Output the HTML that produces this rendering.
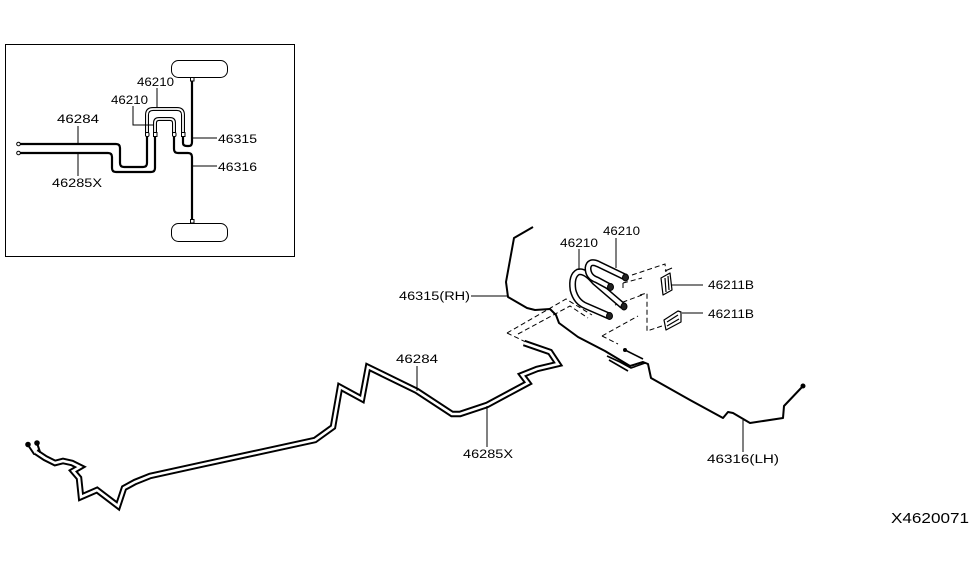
<!DOCTYPE html>
<html>
<head>
<meta charset="utf-8">
<style>
html,body{margin:0;padding:0;background:#fff;}
svg{display:block;}
text{font-family:"Liberation Sans",sans-serif;font-size:11.5px;fill:#000;}
</style>
</head>
<body>
<svg width="975" height="566" viewBox="0 0 975 566" xmlns="http://www.w3.org/2000/svg">
<rect x="0" y="0" width="975" height="566" fill="#fff"/>

<!-- ================= INSET ================= -->
<rect x="5.5" y="44.5" width="289" height="212" fill="none" stroke="#000" stroke-width="1"/>
<!-- wheels -->
<rect x="171.5" y="60.5" width="56" height="17" rx="7" fill="#fff" stroke="#000" stroke-width="1"/>
<rect x="171.5" y="223.5" width="56" height="18" rx="7" fill="#fff" stroke="#000" stroke-width="1"/>

<g fill="none" stroke="#000" stroke-linejoin="round" stroke-linecap="round">
  <!-- 46284 -->
  <path d="M19,144 L116,144 Q120,144 120,148 L120,163 Q120,167 124,167 L143,167 Q147,167 147,163 L147,137" stroke-width="2.2"/>
  <!-- 46285X -->
  <path d="M19,153 L108,153 Q112,153 112,157 L112,168 Q112,172 116,172 L151,172 Q155,172 155,168 L155,137" stroke-width="2.2"/>
  <!-- 46316 -->
  <path d="M174,137 L174,149 Q174,153 178,153 L188,153 Q192,153 192,157 L192,221" stroke-width="2.2"/>
  <!-- 46315 -->
  <path d="M183,137 L183,143 Q183,146 187,146 L189,146 Q192,146 192,142 L192,80" stroke-width="2.2"/>
  <!-- outer U 46210 -->
  <path d="M147,133 L147,115 Q147,109 153,109 L177,109 Q183,109 183,115 L183,133" stroke-width="4"/>
  <path d="M147,133 L147,115 Q147,109 153,109 L177,109 Q183,109 183,115 L183,133" stroke="#fff" stroke-width="1.8"/>
  <!-- inner U 46210 -->
  <path d="M155,133 L155,123 Q155,119 159,119 L170,119 Q174,119 174,123 L174,133" stroke-width="4"/>
  <path d="M155,133 L155,123 Q155,119 159,119 L170,119 Q174,119 174,123 L174,133" stroke="#fff" stroke-width="1.8"/>
</g>
<!-- connectors -->
<g fill="#fff" stroke="#000" stroke-width="1">
  <rect x="145.5" y="132.5" width="3.5" height="4" rx="1.2"/>
  <rect x="153.5" y="132.5" width="3.5" height="4"/>
  <rect x="172.5" y="132.5" width="3.5" height="4" rx="1.2"/>
  <rect x="181.5" y="132.5" width="3.5" height="4"/>
  <rect x="190.5" y="77.5" width="3.5" height="3.5"/>
  <rect x="190.5" y="219.5" width="3.5" height="3.5"/>
  <circle cx="18.5" cy="144" r="1.8"/>
  <circle cx="18.5" cy="153" r="1.8"/>
</g>
<!-- inset leaders -->
<g stroke="#000" stroke-width="1" fill="none">
  <path d="M157,88 L157,108"/>
  <path d="M133,106 L133,125 L154,125"/>
  <path d="M78,126 L78,143"/>
  <path d="M78,154 L78,176"/>
  <path d="M193,138 L217,138"/>
  <path d="M193,166 L217,166"/>
</g>
<text x="137" y="86" textLength="37" lengthAdjust="spacingAndGlyphs">46210</text>
<text x="111" y="104" textLength="37" lengthAdjust="spacingAndGlyphs">46210</text>
<text x="57" y="123" textLength="42" lengthAdjust="spacingAndGlyphs">46284</text>
<text x="52" y="187" textLength="50" lengthAdjust="spacingAndGlyphs">46285X</text>
<text x="218" y="143" textLength="39" lengthAdjust="spacingAndGlyphs">46315</text>
<text x="218" y="171" textLength="39" lengthAdjust="spacingAndGlyphs">46316</text>

<!-- ================= MAIN ================= -->
<!-- dashed outlines -->
<g fill="none" stroke="#000" stroke-width="1" stroke-dasharray="5,3">
  <path d="M507,333 L566,299 L592,315"/>
  <path d="M518,334 L570,306 L588,318"/>
  <path d="M507,333 L530,344"/>
  <path d="M602,336 L638,316"/>
  <path d="M602,336 L618,344"/>
  <path d="M615,305 L642,295"/>
  <path d="M623,283 L642,278"/>
  <path d="M623,283 L623,290"/>
  <path d="M632,275 L665,264 L666,272"/>
  <path d="M640,295 L647,293 L647,331 L665,325"/>
</g>

<!-- 46284 / 46285X double pipe -->
<g fill="none" stroke-linejoin="miter" stroke-miterlimit="3">
  <polyline points="36,452 45,458 55,463 63,461 72,463 80,467 73,471 79,478 81,497 97,490 118,506 124,488 135,482 150,476 200,465 260,452 315,440 333,427 340,387 362,399 368,367 417,391 452,414 460,414 487,405 528,383 522,375 537,369 558,364 550,352 524,343" stroke="#000" stroke-width="6.5"/>
  <polyline points="36,452 45,458 55,463 63,461 72,463 80,467 73,471 79,478 81,497 97,490 118,506 124,488 135,482 150,476 200,465 260,452 315,440 333,427 340,387 362,399 368,367 417,391 452,414 460,414 487,405 528,383 522,375 537,369 558,364 550,352 524,343" stroke="#fff" stroke-width="2.6"/>
</g>
<g stroke="#000" stroke-width="2" fill="#000" stroke-linecap="round">
  <line x1="28" y1="445" x2="34" y2="454"/>
  <line x1="37" y1="443" x2="40" y2="452"/>
  <circle cx="28" cy="444.5" r="1.8"/>
  <circle cx="37" cy="443" r="1.8"/>
</g>

<!-- 46315 / 46316 single pipe -->
<polyline points="533,227 514,238 510,260 506,282 508,297 527,308 535,310 550,309 556,315 559,323 578,337 605,351 630,366 643,362 648,364 651,378 690,400 723,418 728,412 733,413 750,423 783,418 784,406 803,386" fill="none" stroke="#000" stroke-width="2" stroke-linejoin="round"/>
<circle cx="803" cy="386" r="2.5" fill="#000"/>
<g fill="none" stroke="#000" stroke-width="1.6" stroke-linejoin="round">
  <polyline points="625,350 643,359"/>
  <polyline points="607,356 620,362 631,368 645,363"/>
  <polyline points="609,360 628,371"/>
</g>
<circle cx="625" cy="350" r="2" fill="#000"/>

<!-- 46210 U tubes -->
<g fill="none" stroke-linecap="butt" stroke-linejoin="round">
  <path d="M623,306 L595,282 Q585,270 578,272 Q571,276 573,290 Q576,302 586,306 L609,316" stroke="#000" stroke-width="7"/>
  <path d="M623,306 L595,282 Q585,270 578,272 Q571,276 573,290 Q576,302 586,306 L609,316" stroke="#fff" stroke-width="4"/>
  <path d="M625,277 L598,264 Q589,260 588,268 Q588,277 597,280 L610,287" stroke="#000" stroke-width="7"/>
  <path d="M625,277 L598,264 Q589,260 588,268 Q588,277 597,280 L610,287" stroke="#fff" stroke-width="4"/>
</g>
<g fill="#222" stroke="#000" stroke-width="1">
  <ellipse cx="625.5" cy="277.5" rx="3" ry="3.5"/>
  <ellipse cx="610.5" cy="287" rx="3" ry="3.5"/>
  <ellipse cx="624" cy="306.5" rx="3" ry="3.5"/>
  <ellipse cx="609.5" cy="316" rx="3" ry="3.5"/>
</g>

<!-- 46211B clips -->
<g fill="#fff" stroke="#000" stroke-width="1.2" stroke-linejoin="round">
  <polygon points="661,278 670,273 672,290 663,295"/>
  <line x1="665" y1="278" x2="666" y2="292"/>
  <line x1="668" y1="276" x2="669" y2="290"/>
  <line x1="665" y1="271" x2="672" y2="268"/>
  <polygon points="664,320 678,311 681,312 681,322 666,330"/>
  <line x1="667" y1="322" x2="678" y2="315"/>
  <line x1="667" y1="326" x2="679" y2="319"/>
</g>

<!-- main leaders -->
<g stroke="#000" stroke-width="1" fill="none">
  <path d="M616,238 L616,268"/>
  <path d="M579,249 L579,270"/>
  <path d="M672,285 L703,285"/>
  <path d="M682,313 L703,313"/>
  <path d="M471,296 L507,296"/>
  <path d="M417,366 L417,391"/>
  <path d="M487,406 L487,447"/>
  <path d="M743,420 L743,452"/>
</g>
<text x="603" y="235" textLength="37" lengthAdjust="spacingAndGlyphs">46210</text>
<text x="560" y="247" textLength="38" lengthAdjust="spacingAndGlyphs">46210</text>
<text x="708" y="289" textLength="46" lengthAdjust="spacingAndGlyphs">46211B</text>
<text x="708" y="318" textLength="46" lengthAdjust="spacingAndGlyphs">46211B</text>
<text x="399" y="300" textLength="71" lengthAdjust="spacingAndGlyphs">46315(RH)</text>
<text x="396" y="363" textLength="42" lengthAdjust="spacingAndGlyphs">46284</text>
<text x="463" y="458" textLength="50" lengthAdjust="spacingAndGlyphs">46285X</text>
<text x="707" y="463" textLength="72" lengthAdjust="spacingAndGlyphs">46316(LH)</text>
<text x="891" y="523" textLength="78" lengthAdjust="spacingAndGlyphs" style="font-size:15px">X4620071</text>
</svg>
</body>
</html>
